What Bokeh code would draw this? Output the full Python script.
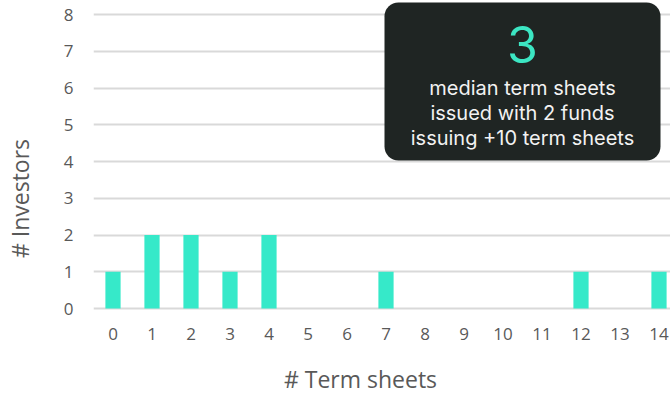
import math
from bokeh.plotting import figure
from bokeh.models import Range1d, BoxAnnotation, FixedTicker, Label
from bokeh.embed import file_html
from bokeh.resources import INLINE

# Distribution of term sheets issued per investor
term_sheets = list(range(15))
investors = [1, 2, 2, 1, 2, 0, 0, 1, 0, 0, 0, 0, 1, 0, 1]
y_ticks = list(range(9))

# Callout content
median_value = "3"
callout_lines = ["median term sheets", "issued with 2 funds", "issuing +10 term sheets"]

BAR_COLOR = "#36e9c9"
GRID_COLOR = "#d9d9d9"
LABEL_COLOR = "#595959"
BOX_COLOR = "#1f2523"

W, H = 670, 393
LEFT = 93            # frame left edge in px
FRAME_BOTTOM = 312   # frame bottom edge in px
PX_X = 39.0          # px per category
PX_Y = 36.75         # px per investor

x0 = -0.5
x1 = x0 + (W - LEFT) / PX_X
y1 = 8 + 14 / PX_Y
y0 = y1 - FRAME_BOTTOM / PX_Y


def dx(px):
    """Canvas x pixel -> data x."""
    return x0 + (px - LEFT) / PX_X


def dy(py):
    """Canvas y pixel -> data y."""
    return y1 - py / PX_Y


p = figure(width=W, height=H,
           x_range=Range1d(x0, x1), y_range=Range1d(y0, y1),
           output_backend="svg", toolbar_location=None,
           min_border_left=LEFT, min_border_right=0,
           min_border_top=0, min_border_bottom=H - FRAME_BOTTOM)
p.outline_line_color = None
p.background_fill_color = "white"
p.border_fill_color = "white"

p.vbar(x=term_sheets, top=investors, width=0.39, bottom=0,
       fill_color=BAR_COLOR, line_color=None)

p.xgrid.visible = False
p.ygrid.grid_line_color = GRID_COLOR
p.ygrid.grid_line_width = 2
p.ygrid.ticker = FixedTicker(ticks=y_ticks)

for ax in (p.xaxis[0], p.yaxis[0]):
    ax.axis_line_color = None
    ax.major_tick_line_color = None
    ax.minor_tick_line_color = None
    ax.major_tick_in = 0
    ax.major_tick_out = 0
    ax.minor_tick_out = 0
    ax.major_label_text_font = "Open Sans"
    ax.major_label_text_font_size = "17px"
    ax.major_label_text_color = LABEL_COLOR

p.xaxis.ticker = FixedTicker(ticks=term_sheets)
p.yaxis.ticker = FixedTicker(ticks=y_ticks)
p.xaxis.major_label_standoff = 15
p.yaxis.major_label_standoff = 20

# Axis titles live in the side panels so they are not clipped by the frame
p.add_layout(Label(x=dx(19), y=dy(198), text="# Investors", angle=math.pi / 2,
                   text_font="Open Sans", text_font_size="23px",
                   text_color=LABEL_COLOR, text_align="center", text_baseline="middle"),
             "left")
p.add_layout(Label(x=dx(360), y=dy(378), text="# Term sheets",
                   text_font="Open Sans", text_font_size="23px",
                   text_color=LABEL_COLOR, text_align="center", text_baseline="middle"),
             "below")

# Dark callout box with its text
box = BoxAnnotation(left=dx(384), right=dx(660), top=dy(2), bottom=dy(160),
                    fill_color=BOX_COLOR, fill_alpha=1, line_color=None,
                    border_radius=14)
p.add_layout(box)

cx = dx(522)
p.add_layout(Label(x=cx, y=dy(44), text=median_value,
                   text_font="Inter", text_font_size="50px",
                   text_color="#3ce6c3", text_align="center", text_baseline="middle"))

for line, py in zip(callout_lines, (87, 112, 137)):
    p.add_layout(Label(x=cx, y=dy(py), text=line,
                       text_font="Inter", text_font_size="20px",
                       text_color="#f2f2f2", text_align="center", text_baseline="middle"))

open("out.html", "w").write(file_html(p, INLINE))
